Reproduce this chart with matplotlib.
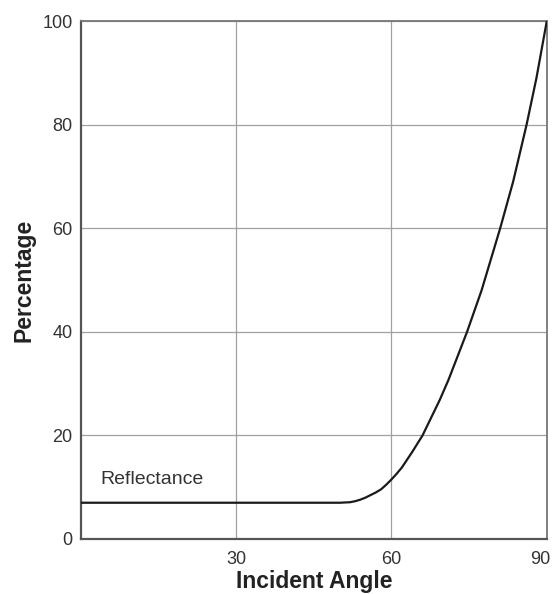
import matplotlib
matplotlib.use("Agg")
import matplotlib.pyplot as plt
import matplotlib.transforms as mtransforms

plt.rcParams['font.family'] = ['Liberation Sans', 'DejaVu Sans']

# values
angle = [0, 50, 52, 53, 54, 55, 56, 57, 58, 59, 60, 61, 62, 64, 66, 69.3, 71,
         74.6, 77.4, 81, 83.5, 86.1, 88, 90]
reflectance = [7.0, 7.0, 7.1, 7.3, 7.6, 8.0, 8.5, 9.0, 9.6, 10.5, 11.5, 12.6,
               13.8, 16.8, 20.0, 26.8, 30.7, 40.0, 48.0, 60.0, 69.0, 80.0,
               89.0, 100.0]

x_ticks = [30, 60, 90]
y_ticks = [0, 20, 40, 60, 80, 100]

fig = plt.figure(figsize=(5.54, 5.94), dpi=100)
ax = fig.add_axes([0.146, 0.0926, 0.841, 0.872])

ax.plot(angle, reflectance, color='#1a1a1a', linewidth=1.6, zorder=3)

ax.set_xlim(0, 90)
ax.set_ylim(0, 100)
ax.set_xticks(x_ticks)
ax.set_yticks(y_ticks)
ax.grid(True, color='#a0a0a0', linewidth=0.9)
ax.tick_params(length=0, labelsize=13, labelcolor='#333333')
ax.tick_params(axis='y', pad=6)
ax.tick_params(axis='x', pad=9)

# last x label sits against the right edge, nudge it in a little
last = ax.get_xticklabels()[-1]
last.set_transform(last.get_transform() +
                   mtransforms.ScaledTranslation(-5 / 72, 0, fig.dpi_scale_trans))

for side in ['left', 'bottom']:
    ax.spines[side].set_color('#555555')
    ax.spines[side].set_linewidth(1.6)
for side in ['top', 'right']:
    ax.spines[side].set_color('#777777')
    ax.spines[side].set_linewidth(1.3)

ax.text(3.7, 11.4, 'Reflectance', fontsize=14, color='#333333', va='center')

ax.set_xlabel('Incident Angle', fontsize=16.5, fontweight='bold', color='#222222', labelpad=1)
ax.set_ylabel('Percentage', fontsize=16.5, fontweight='bold', color='#222222', labelpad=5)

fig.savefig('out.png', dpi=100)
